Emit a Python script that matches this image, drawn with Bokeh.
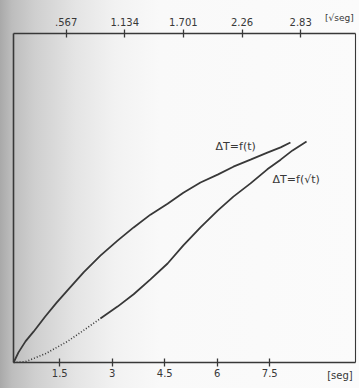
from bokeh.plotting import figure
from bokeh.models import Range1d, LinearAxis, FixedTicker, Label
from bokeh.embed import file_html
from bokeh.resources import INLINE

# ---- data ----
# curve ΔT = f(t)
t_a = [0.18, 0.32, 0.52, 0.75, 1.09, 1.41, 1.72, 2.18, 2.66, 3.15, 3.61, 4.09,
       4.58, 5.03, 5.52, 6.01, 6.46, 6.95, 7.43, 7.81, 8.09]
dT_a = [0.00, 0.23, 0.48, 0.70, 1.05, 1.36, 1.64, 2.05, 2.43, 2.77, 3.07, 3.36,
        3.61, 3.86, 4.09, 4.27, 4.45, 4.61, 4.77, 4.89, 5.00]
# curve ΔT = f(√t)  (first part drawn dotted)
t_b_dot = [0.18, 0.52, 0.75, 1.09, 1.41, 1.72, 2.18, 2.66]
dT_b_dot = [0.00, 0.02, 0.09, 0.20, 0.34, 0.48, 0.73, 1.00]
t_b = [2.66, 3.15, 3.61, 4.09, 4.58, 5.03, 5.52, 6.01, 6.46, 6.95, 7.43, 7.81,
       8.15, 8.55]
dT_b = [1.00, 1.27, 1.55, 1.89, 2.25, 2.66, 3.07, 3.45, 3.77, 4.07, 4.39, 4.61,
        4.82, 5.02]

bottom_ticks = [1.5, 3, 4.5, 6, 7.5]
bottom_labels = ["1.5", "3", "4.5", "6", "7.5"]
top_ticks = [0.567, 1.134, 1.701, 2.268, 2.835]
top_labels = [".567", "1.134", "1.701", "2.26", "2.83"]

# plot box limits (data units)
T0, T1 = 0.177, 9.949        # seconds
V0, V1 = 0.058, 3.366        # sqrt-scale at the same edges
Y0, Y1 = 0.0, 7.48           # ΔT

INK = "#383838"
FONT = "DejaVu Sans"

p = figure(width=359, height=388, output_backend="svg", toolbar_location=None,
           x_range=Range1d(-0.194, 10.063), y_range=Range1d(-0.591, 8.227),
           x_axis_location=None, y_axis_location=None,
           min_border_left=0, min_border_right=0, min_border_top=0,
           min_border_bottom=0)
p.title.visible = False
p.border_fill_color = None
p.background_fill_color = None
p.styles = {"background": "linear-gradient(to right, #a9a9a9 0px, #bdbdbd 12px, #cfcfcf 35px, #e4e4e4 75px, #f2f2f2 115px, #f9f9f9 160px, #fbfbfb 100%)"}
p.outline_line_color = None
p.grid.visible = False

p.extra_x_ranges = {"sq": Range1d(-0.0677, 3.404)}

def style_axis(ax, ticks, labels):
    ax.ticker = FixedTicker(ticks=ticks)
    ax.major_label_overrides = {t: l for t, l in zip(ticks, labels)}
    ax.minor_tick_line_color = None
    ax.major_tick_in = 4
    ax.major_tick_out = 4
    ax.major_tick_line_color = INK
    ax.major_tick_line_width = 1.3
    ax.axis_line_color = INK
    ax.axis_line_width = 1.6
    ax.major_label_text_font = FONT
    ax.major_label_text_font_size = "10px"
    ax.major_label_text_color = INK
    ax.major_label_standoff = 3

bottom = LinearAxis(fixed_location=Y0, bounds=(T0, T1))
style_axis(bottom, bottom_ticks, bottom_labels)
p.add_layout(bottom, "below")

top = LinearAxis(x_range_name="sq", fixed_location=Y1, bounds=(V0, V1))
style_axis(top, top_ticks, top_labels)
p.add_layout(top, "above")

def plain_axis(loc, width):
    ax = LinearAxis(fixed_location=loc, bounds=(Y0, Y1))
    ax.ticker = FixedTicker(ticks=[])
    ax.minor_tick_line_color = None
    ax.major_tick_line_color = None
    ax.major_label_text_font_size = "0px"
    ax.axis_line_color = INK
    ax.axis_line_width = width
    return ax

p.add_layout(plain_axis(T0, 1.6), "left")
p.add_layout(plain_axis(T1, 1.1), "right")

p.line(t_a, dT_a, line_color=INK, line_width=1.8)
p.line(t_b_dot, dT_b_dot, line_color=INK, line_width=1.6, line_dash="1 2")
p.line(t_b, dT_b, line_color=INK, line_width=1.8)

p.add_layout(Label(x=5.95, y=4.75, text="ΔT=f(t)", text_font=FONT,
                   text_font_size="11px", text_color=INK))
p.add_layout(Label(x=7.58, y=4.0, text="ΔT=f(√t)", text_font=FONT,
                   text_font_size="11px", text_color=INK))
p.add_layout(Label(x=9.14, y=-0.30, text="[seg]", text_font=FONT,
                   text_font_size="10px", text_color=INK, text_baseline="middle"))
p.add_layout(Label(x=9.08, y=7.82, text="[√seg]", text_font=FONT,
                   text_font_size="9px", text_color=INK, text_baseline="middle"))

open("out.html", "w").write(file_html(p, INLINE))
